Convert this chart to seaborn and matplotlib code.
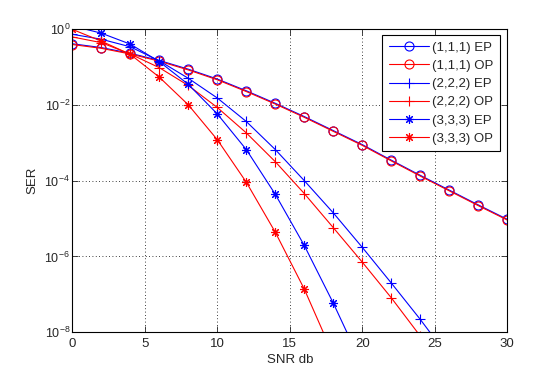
import matplotlib.pyplot as plt
import numpy as np
import pandas as pd
import seaborn as sns
from matplotlib.ticker import FixedLocator, LogFormatterSciNotation, NullLocator


# SNR grid (dB) and log10(SER)
snr_db = [0, 2, 4, 6, 8, 10, 12, 14, 16, 18, 20, 22, 24, 26, 28, 30]

log_ser_111_ep = [-0.39, -0.49, -0.64, -0.83, -1.06, -1.32, -1.63, -1.96, -2.31, -2.68,
                  -3.05, -3.46, -3.86, -4.25, -4.64, -5.02]
log_ser_111_op = [-0.41, -0.51, -0.66, -0.85, -1.08, -1.34, -1.65, -1.98, -2.33, -2.70,
                  -3.07, -3.48, -3.88, -4.27, -4.66, -5.04]
log_ser_222_ep = [-0.14, -0.27, -0.47, -0.84, -1.30, -1.82, -2.44, -3.18, -4.00, -4.85,
                  -5.76, -6.70, -7.66, -8.68, -9.70, -10.75]
log_ser_222_op = [-0.21, -0.36, -0.66, -1.02, -1.49, -2.07, -2.74, -3.50, -4.34, -5.24,
                  -6.15, -7.09, -8.10, -9.10, -10.15, -11.20]
log_ser_333_ep = [0.08, -0.11, -0.40, -0.86, -1.46, -2.24, -3.18, -4.36, -5.71, -7.23,
                  -8.87, -10.60, -12.40, -14.30, -16.20, -18.20]
log_ser_333_op = [-0.01, -0.32, -0.67, -1.27, -2.00, -2.92, -4.04, -5.36, -6.86, -8.60,
                  -10.40, -12.30, -14.30, -16.40, -18.50, -20.70]

series_labels = ["(1,1,1) EP", "(1,1,1) OP", "(2,2,2) EP", "(2,2,2) OP", "(3,3,3) EP", "(3,3,3) OP"]
series_values = [log_ser_111_ep, log_ser_111_op, log_ser_222_ep,
                 log_ser_222_op, log_ser_333_ep, log_ser_333_op]

y_ticks = [1e-8, 1e-6, 1e-4, 1e-2, 1e0]


def main():
    sns.set_style("ticks")
    plt.rcParams.update(
        {
            "figure.facecolor": "white",
            "axes.facecolor": "white",
            "axes.edgecolor": "black",
            "axes.linewidth": 0.8,
            "xtick.direction": "in",
            "ytick.direction": "in",
            "xtick.top": True,
            "ytick.right": True,
            "xtick.major.size": 4,
            "ytick.major.size": 4,
            "xtick.major.width": 0.6,
            "ytick.major.width": 0.6,
            "xtick.major.pad": 4.0,
            "ytick.major.pad": 1.5,
            "xtick.labelsize": 9.5,
            "ytick.labelsize": 9,
            "font.size": 10,
            "mathtext.fontset": "custom",
            "mathtext.rm": "Liberation Sans",
            "mathtext.it": "Liberation Sans",
        }
    )
    plt.rcParams["font.family"] = ["Liberation Sans", "DejaVu Sans"]

    fig = plt.figure(figsize=(5.59, 3.73), dpi=100)
    ax = fig.add_axes([0.1293, 0.1091, 0.7782, 0.8132])

    styles = [
        ("blue", "o"),
        ("red", "o"),
        ("blue", "+"),
        ("red", "+"),
        ("blue", (8, 2, 0)),
        ("red", (8, 2, 0)),
    ]

    for label, values, (color, marker) in zip(series_labels, series_values, styles):
        df = pd.DataFrame({"snr": snr_db, "ser": 10.0 ** np.array(values)})
        sns.lineplot(
            data=df,
            x="snr",
            y="ser",
            color=color,
            marker=marker,
            markersize=6.5,
            markerfacecolor="none",
            markeredgecolor=color,
            markeredgewidth=0.8,
            linewidth=0.8,
            label=label,
            ax=ax,
        )

    ax.set_yscale("log")
    ax.set_xlim(0, 30)
    ax.set_ylim(1e-8, 1e0)
    ax.set_xticks([0, 5, 10, 15, 20, 25, 30])
    ax.yaxis.set_major_locator(FixedLocator(y_ticks))
    ax.yaxis.set_major_formatter(LogFormatterSciNotation())
    ax.yaxis.set_minor_locator(NullLocator())
    ax.grid(True, color="black", linestyle=(0, (1, 3)), linewidth=0.6)

    ax.set_xlabel("SNR db", fontsize=9.5, labelpad=3)
    ax.set_ylabel("SER", fontsize=9.5, labelpad=4)

    legend = ax.legend(
        loc="upper right",
        bbox_to_anchor=(0.983, 0.980),
        borderaxespad=0,
        frameon=True,
        fancybox=False,
        edgecolor="black",
        framealpha=1,
        handlelength=3.0,
        handletextpad=0.25,
        labelspacing=0.45,
        borderpad=0.5,
        fontsize=9.5,
    )
    legend.get_frame().set_linewidth(0.8)

    fig.savefig("out.png", dpi=100)
    plt.close(fig)


if __name__ == "__main__":
    main()
